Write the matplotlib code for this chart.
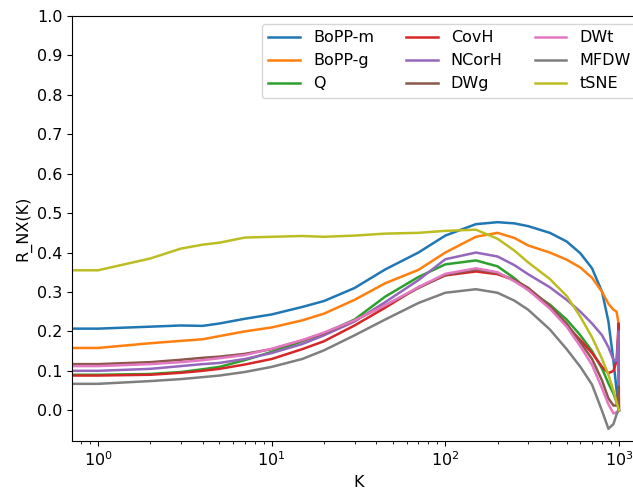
import numpy as np
import matplotlib
matplotlib.use('Agg')
import matplotlib.pyplot as plt

plt.rcParams['font.size'] = 11.5

# neighbourhood sizes K (0 is clipped on the log axis)
K = [0, 1, 2, 3, 4, 5, 7, 10, 15, 20, 30, 45, 70, 100, 150, 200, 250, 300, 400, 500, 600, 700, 800, 870, 930, 970, 995, 999]

bopp_m = [0.207, 0.207, 0.212, 0.215, 0.214, 0.220, 0.232, 0.243, 0.262, 0.277, 0.310, 0.357, 0.400, 0.443, 0.472, 0.477, 0.474, 0.467, 0.450, 0.428, 0.398, 0.360, 0.300, 0.225, 0.125, 0.050, 0.010, 0.0]
bopp_g = [0.158, 0.158, 0.170, 0.176, 0.180, 0.188, 0.200, 0.210, 0.228, 0.245, 0.280, 0.322, 0.356, 0.400, 0.440, 0.450, 0.437, 0.418, 0.400, 0.382, 0.362, 0.336, 0.300, 0.270, 0.255, 0.250, 0.220, 0.0]
q = [0.090, 0.090, 0.092, 0.097, 0.104, 0.110, 0.127, 0.148, 0.175, 0.195, 0.230, 0.288, 0.338, 0.370, 0.380, 0.365, 0.335, 0.305, 0.268, 0.230, 0.190, 0.150, 0.105, 0.068, 0.042, 0.020, 0.005, 0.0]
covh = [0.088, 0.088, 0.090, 0.095, 0.100, 0.105, 0.116, 0.130, 0.155, 0.175, 0.215, 0.260, 0.312, 0.342, 0.352, 0.345, 0.330, 0.310, 0.262, 0.215, 0.178, 0.145, 0.110, 0.094, 0.100, 0.125, 0.220, 0.0]
ncorh = [0.100, 0.100, 0.105, 0.112, 0.117, 0.120, 0.130, 0.145, 0.168, 0.190, 0.225, 0.274, 0.330, 0.383, 0.400, 0.390, 0.368, 0.345, 0.312, 0.280, 0.250, 0.220, 0.190, 0.160, 0.128, 0.125, 0.200, 0.0]
dwg = [0.117, 0.117, 0.122, 0.128, 0.133, 0.136, 0.143, 0.155, 0.177, 0.195, 0.228, 0.266, 0.310, 0.343, 0.357, 0.348, 0.330, 0.310, 0.265, 0.220, 0.172, 0.130, 0.075, 0.030, 0.012, 0.012, 0.060, 0.0]
dwt = [0.112, 0.112, 0.117, 0.122, 0.127, 0.132, 0.140, 0.156, 0.178, 0.197, 0.228, 0.266, 0.312, 0.346, 0.360, 0.350, 0.327, 0.305, 0.258, 0.212, 0.162, 0.115, 0.055, 0.015, -0.008, -0.005, 0.0, 0.0]
mfdw = [0.067, 0.067, 0.074, 0.079, 0.084, 0.088, 0.097, 0.110, 0.130, 0.152, 0.190, 0.230, 0.272, 0.298, 0.307, 0.298, 0.278, 0.255, 0.205, 0.155, 0.110, 0.065, -0.002, -0.047, -0.035, -0.010, 0.0, 0.0]
tsne = [0.355, 0.355, 0.385, 0.410, 0.420, 0.425, 0.438, 0.440, 0.442, 0.440, 0.443, 0.448, 0.450, 0.455, 0.458, 0.435, 0.405, 0.375, 0.333, 0.290, 0.237, 0.185, 0.130, 0.090, 0.050, 0.020, 0.003, 0.0]

curves = [bopp_m, bopp_g, q, covh, ncorh, dwg, dwt, mfdw, tsne]
labels = ['BoPP-m', 'BoPP-g', 'Q', 'CovH', 'NCorH', 'DWg', 'DWt', 'MFDW', 'tSNE']

fig = plt.figure(figsize=(6.33, 4.92), dpi=100)
# axes runs a little past the right edge, like the cropped original
ax = fig.add_axes([72/633, 51/492, 573/633, 425/492])

for y, lab in zip(curves, labels):
    ax.plot(K, y, label=lab, lw=1.8)

ax.set_xscale('log')
ax.set_xlim(0.708, 1413)
ax.set_ylim(-0.078, 1.0)
ax.set_yticks(np.arange(0, 1.01, 0.1))
ax.set_xlabel('K')
ax.set_ylabel('R_NX(K)')
ax.legend(ncol=3, loc='upper right')

fig.savefig('out.png', dpi=100)
